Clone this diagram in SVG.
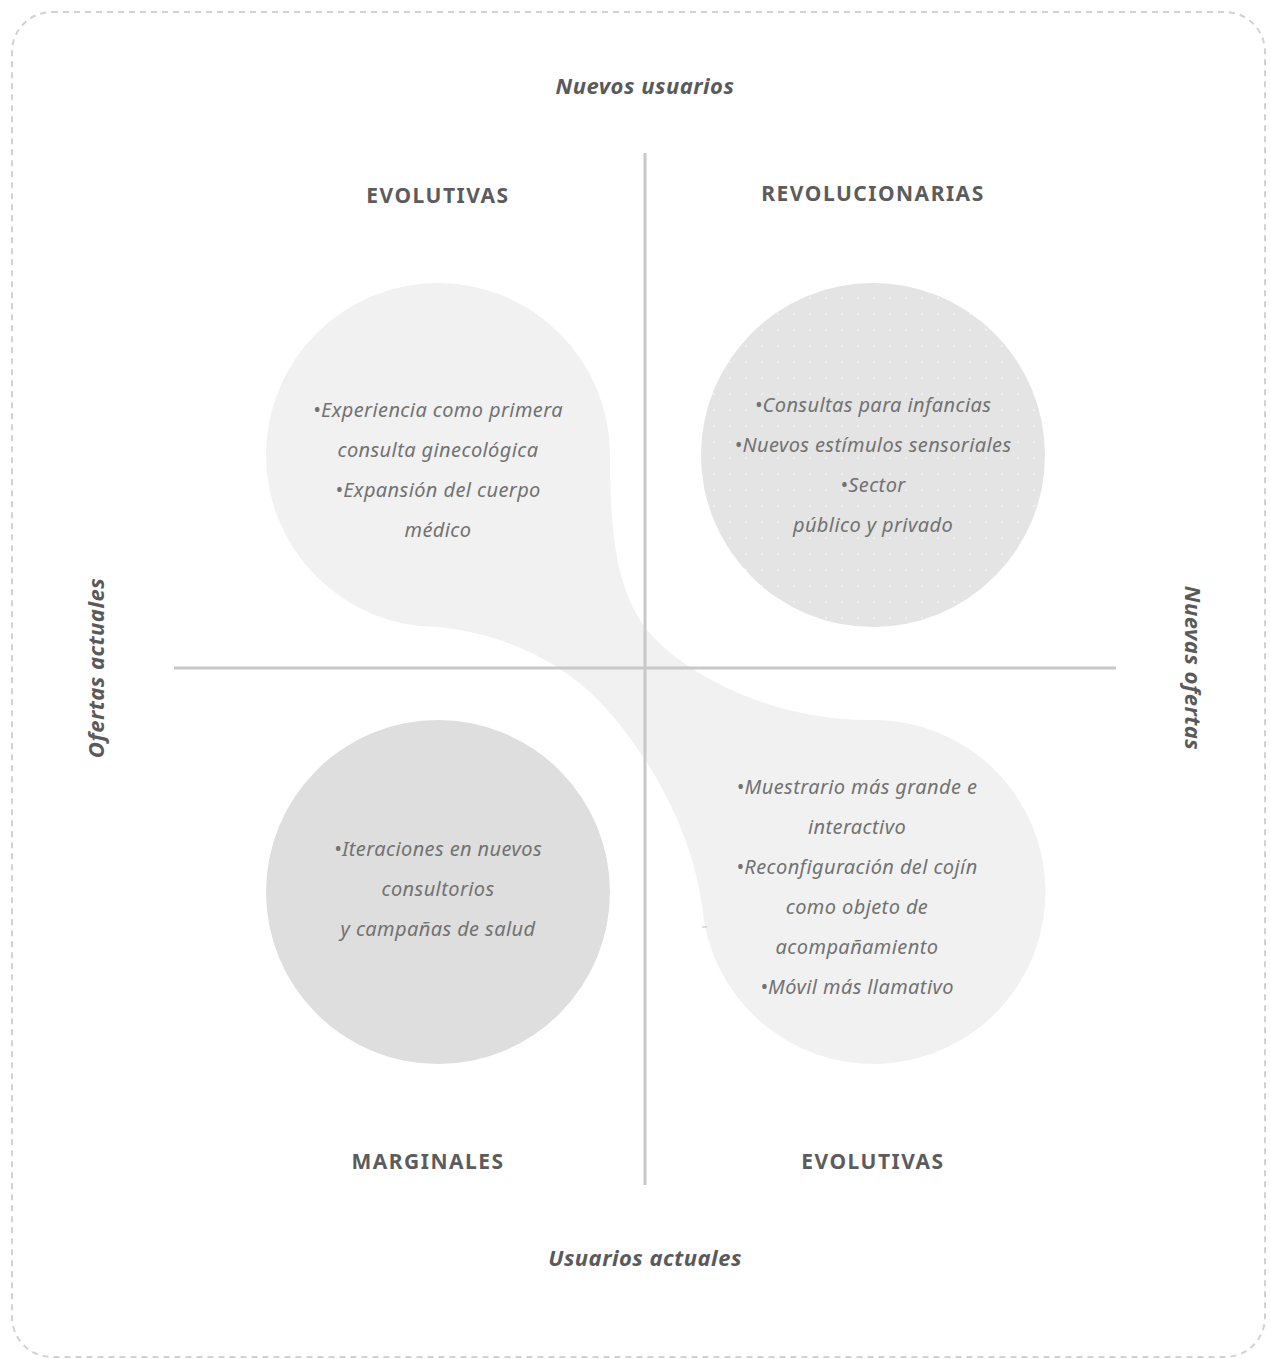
<svg xmlns="http://www.w3.org/2000/svg" width="1271" height="1359" viewBox="0 0 1271 1359">
  <style>
    .axis { font-family: "Noto Sans", "Open Sans", sans-serif; font-size: 22px; font-weight: bold; font-style: italic; fill: #5a5a5a; text-anchor: middle; letter-spacing: 0.5px; }
    .head { font-family: "Noto Sans", "Open Sans", sans-serif; font-size: 21px; font-weight: bold; fill: #5c5c5c; text-anchor: middle; letter-spacing: 1.5px; }
    .body { font-family: "Noto Sans", "Open Sans", sans-serif; font-size: 20px; font-style: italic; fill: #727272; text-anchor: middle; letter-spacing: 0.4px; }
    .line { stroke: #c8c8c8; stroke-width: 3; fill: none; }
  </style>
  <defs>
    <pattern id="dots" patternUnits="userSpaceOnUse" width="16" height="16" x="2" y="2">
      <rect width="16" height="16" fill="#e4e4e4"/>
      <circle cx="8" cy="8" r="1.1" fill="#f2f2f2"/>
    </pattern>
  </defs>
  <rect x="0" y="0" width="1271" height="1359" fill="#ffffff"/>
  <rect x="12" y="12" width="1253" height="1345" rx="40" ry="40" fill="none" stroke="#d2d2d2" stroke-width="2" stroke-dasharray="6 5"/>

  <g id="blob">
    <path d="M610,455 A172,172 0 1 0 438,627 C500,633 560,660 600,702 C640,744 690,820 702,905 A172,172 0 1 0 873,720 C760,721 672,664 645,627 C618,590 610,540 610,455 Z" fill="#f1f1f1"/>
    <line x1="702" y1="927" x2="707" y2="927" stroke="#bdbdbd" stroke-width="1"/>
  </g>

  <g id="connectors">
    <line class="line" x1="645" y1="153" x2="645" y2="1185"/>
    <line class="line" x1="174" y1="668" x2="1116" y2="668"/>
  </g>

  <g id="axis-labels">
    <text class="axis" x="645" y="94">Nuevos usuarios</text>
    <text class="axis" x="645" y="1266">Usuarios actuales</text>
    <text class="axis" transform="translate(104,668) rotate(-90)">Ofertas actuales</text>
    <text class="axis" transform="translate(1185,668) rotate(90)">Nuevas ofertas</text>
  </g>

  <g id="evolutivas-top">
    <text class="head" x="438" y="203">EVOLUTIVAS</text>
    <text class="body" x="438" y="417">•Experiencia como primera</text>
    <text class="body" x="438" y="457">consulta ginecológica</text>
    <text class="body" x="438" y="497">•Expansión del cuerpo</text>
    <text class="body" x="438" y="537">médico</text>
  </g>

  <g id="revolucionarias">
    <text class="head" x="873" y="201">REVOLUCIONARIAS</text>
    <circle cx="873" cy="455" r="172" fill="url(#dots)"/>
    <text class="body" x="873" y="412">•Consultas para infancias</text>
    <text class="body" x="873" y="452">•Nuevos estímulos sensoriales</text>
    <text class="body" x="873" y="492">•Sector</text>
    <text class="body" x="873" y="532">público y privado</text>
  </g>

  <g id="marginales">
    <text class="head" x="428" y="1169">MARGINALES</text>
    <circle cx="438" cy="892" r="172" fill="#dedede"/>
    <text class="body" x="438" y="856">•Iteraciones en nuevos</text>
    <text class="body" x="438" y="896">consultorios</text>
    <text class="body" x="438" y="936">y campañas de salud</text>
  </g>

  <g id="evolutivas-bottom">
    <text class="head" x="873" y="1169">EVOLUTIVAS</text>
    <text class="body" x="857" y="794">•Muestrario más grande e</text>
    <text class="body" x="857" y="834">interactivo</text>
    <text class="body" x="857" y="874">•Reconfiguración del cojín</text>
    <text class="body" x="857" y="914">como objeto de</text>
    <text class="body" x="857" y="954">acompañamiento</text>
    <text class="body" x="857" y="994">•Móvil más llamativo</text>
  </g>
</svg>
